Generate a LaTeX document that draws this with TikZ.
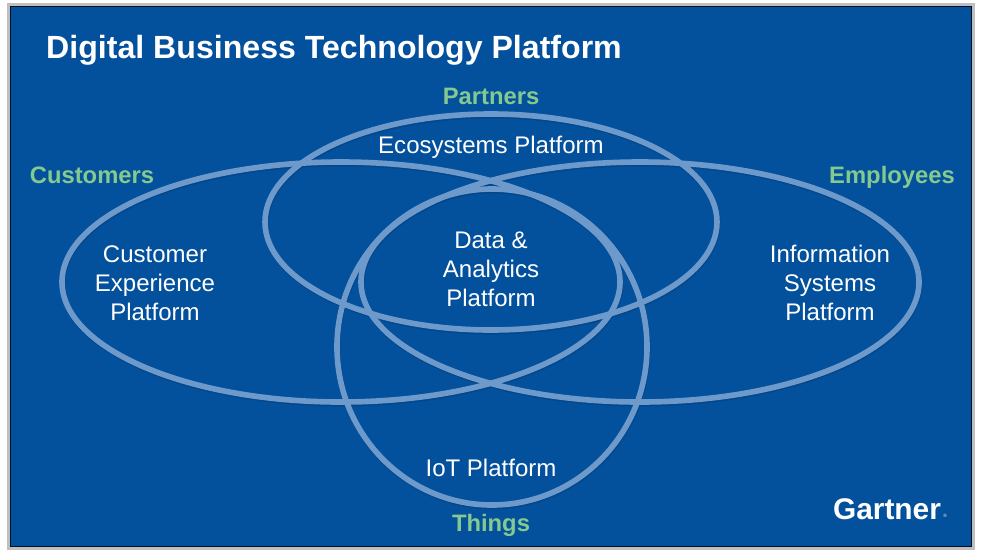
\documentclass[tikz,border=0pt]{standalone}
\usepackage{fontspec}
\setmainfont{Liberation Sans}
\definecolor{panelblue}{HTML}{03509C}
\definecolor{ringblue}{HTML}{6E9ACB}
\definecolor{ringdark}{HTML}{034689}
\definecolor{labelgreen}{HTML}{84C98F}
\tikzset{
ring/.style={draw=ringblue,line width=4.8pt},
ringshade/.style={draw=ringdark,line width=4.8pt,shift={(.5,1.5)}},
platform/.style={text=white,font=\fontsize{20.5}{24.6}\selectfont,align=center},
group/.style={text=labelgreen,font=\fontsize{20.3}{24}\selectfont\bfseries,text height=14.5pt,text depth=4.2pt,inner sep=0}
}
\begin{document}
\begin{tikzpicture}[x=.03cm,y=-.03cm]
\useasboundingbox (0,0) rectangle (981,552);
\fill[white] (0,0) rectangle (981,552);
\fill[black!25] (7,3) rectangle (975,550);
\fill[panelblue] (10,6) rectangle (971,546);
\draw[black!80!panelblue,line width=.8pt] (10,6) rectangle (971,546);
% shade under the rings
\foreach \cx/\cy/\rx/\ry in {341/282/279/120, 640/282/279/120, 491/222/226/108, 492/347/155/158}
\draw[ringshade] (\cx,\cy) ellipse [x radius=\rx,y radius=\ry];
\foreach \cx/\cy/\rx/\ry in {341/282/279/120, 640/282/279/120, 491/222/226/108, 492/347/155/158}
\draw[ring] (\cx,\cy) ellipse [x radius=\rx,y radius=\ry];
\node[text=white,font=\fontsize{27.4}{32}\selectfont\bfseries,anchor=west,inner sep=0] (title) at (46,50) {Digital Business Technology Platform};
\path (491,98) node[group] (partners) {Partners}
(92,177) node[group] (customers) {Customers}
(892,177) node[group] (employees) {Employees}
(491,525) node[group] (things) {Things};
\path (491,147) node[platform] (ecosystems) {Ecosystems Platform}
(155,283) node[platform] (customer) {Customer\\Experience\\Platform}
(491,269) node[platform] (data) {Data \&\\Analytics\\Platform}
(830,283) node[platform] (information) {Information\\Systems\\Platform}
(491,468) node[platform] (iot) {IoT Platform};
\node[text=white,font=\fontsize{25.5}{30}\selectfont\bfseries,inner sep=0] (gartner) at (887,509) {Gartner};
\node[text=white,font=\fontsize{4}{5}\selectfont,inner sep=0] (mark) at (945,516) {®};
\end{tikzpicture}
\end{document}
